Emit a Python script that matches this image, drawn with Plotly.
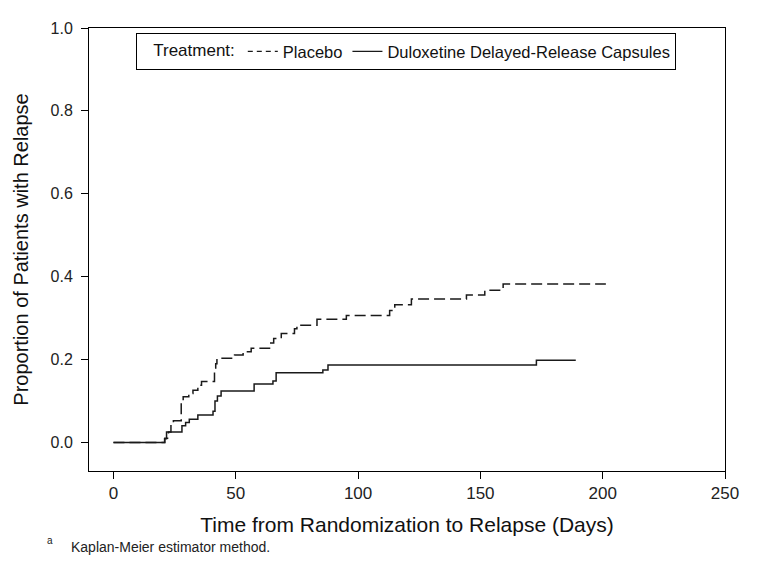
import plotly.graph_objects as go

# Placebo (dashed) Kaplan-Meier cumulative relapse proportion
placebo_days = [0, 21, 22.5, 23.5, 24.5, 27.7, 28.5, 30.8, 32.5, 34.5, 36, 41.3, 41.8, 42.3,
                49.5, 53, 56.3, 63.8, 65.5, 68.6, 74, 75, 83.2, 95.2, 112.9, 115,
                121.8, 144.3, 151.8, 159.3, 201.3]
placebo_prop = [0, 0.01, 0.025, 0.045, 0.052, 0.1, 0.11, 0.118, 0.126, 0.138, 0.147, 0.176, 0.19, 0.203,
                0.211, 0.219, 0.227, 0.24, 0.251, 0.263, 0.274, 0.283, 0.297, 0.306, 0.318, 0.332,
                0.346, 0.356, 0.367, 0.382, 0.382]

# Duloxetine (solid)
dulox_days = [0, 20.9, 21.7, 28, 29.5, 31, 34.5, 40.7, 41.5, 42.5, 44, 57.5, 65.2, 66.5,
              85.6, 87.7, 172.9, 189]
dulox_prop = [0, 0.009, 0.025, 0.04, 0.048, 0.056, 0.066, 0.075, 0.1, 0.112, 0.124, 0.141, 0.148, 0.168,
              0.175, 0.187, 0.198, 0.198]

x_ticks = [0, 50, 100, 150, 200, 250]
y_ticks = [0.0, 0.2, 0.4, 0.6, 0.8, 1.0]
y_tick_labels = ["0.0", "0.2", "0.4", "0.6", "0.8", "1.0"]

FONT = "Liberation Sans, Arial, sans-serif"
LINE = "#1a1a1a"

fig = go.Figure()
fig.add_trace(go.Scatter(x=placebo_days, y=placebo_prop, mode="lines", name="Placebo",
                         showlegend=False,
                         line=dict(shape="hv", color=LINE, width=1.5, dash="11px,5px")))
fig.add_trace(go.Scatter(x=dulox_days, y=dulox_prop, mode="lines",
                         name="Duloxetine Delayed-Release Capsules", showlegend=False,
                         line=dict(shape="hv", color=LINE, width=1.5)))
# legend keys
fig.add_trace(go.Scatter(x=[None], y=[None], mode="lines", name="Placebo",
                         line=dict(color=LINE, width=1.2, dash="5px,4px")))
fig.add_trace(go.Scatter(x=[None], y=[None], mode="lines",
                         name="Duloxetine Delayed-Release Capsules",
                         line=dict(color=LINE, width=1.2)))

axis_common = dict(showline=True, linecolor="black", linewidth=1, mirror=True,
                   ticks="outside", ticklen=7, tickcolor="black", showgrid=False,
                   zeroline=False)

fig.update_layout(
    width=784, height=574,
    margin=dict(l=81, r=67, t=14, b=111),
    paper_bgcolor="white", plot_bgcolor="white",
    font=dict(family=FONT, color="#222"),
    xaxis=dict(range=[-10, 250], tickvals=x_ticks,
               tickfont=dict(family=FONT, size=17, color="#222"),
               title=dict(text="Time from Randomization to Relapse (Days)",
                          font=dict(family=FONT, size=21, color="#111"), standoff=14),
               **axis_common),
    yaxis=dict(range=[-0.069, 1.0], tickvals=y_ticks, ticktext=y_tick_labels,
               tickfont=dict(family=FONT, size=16, color="#222"), ticklabelstandoff=5,
               title=dict(text="Proportion of Patients with Relapse",
                          font=dict(family=FONT, size=20, color="#111"), standoff=16),
               **axis_common),
    legend=dict(orientation="h", x=0.074, y=(471 - 46) / 449, xanchor="left", yanchor="middle",
                bordercolor="black", borderwidth=1, bgcolor="white",
                font=dict(family=FONT, size=16.5, color="#111"),
                title=dict(text="\u00a0\u00a0\u00a0Treatment:", side="left",
                           font=dict(family=FONT, size=17, color="#111")),
                itemwidth=30),
    showlegend=True,
)

fig.add_annotation(text="a", xref="paper", yref="paper", x=(45 - 89) / 636, y=(471 - 541) / 449,
                   xanchor="left", yanchor="middle", showarrow=False,
                   font=dict(family=FONT, size=10, color="#222"))
fig.add_annotation(text="Kaplan-Meier estimator method.", xref="paper", yref="paper",
                   x=(69 - 89) / 636, y=(471 - 548) / 449,
                   xanchor="left", yanchor="middle", showarrow=False,
                   font=dict(family=FONT, size=14, color="#222"))

fig.write_html("out.html")
